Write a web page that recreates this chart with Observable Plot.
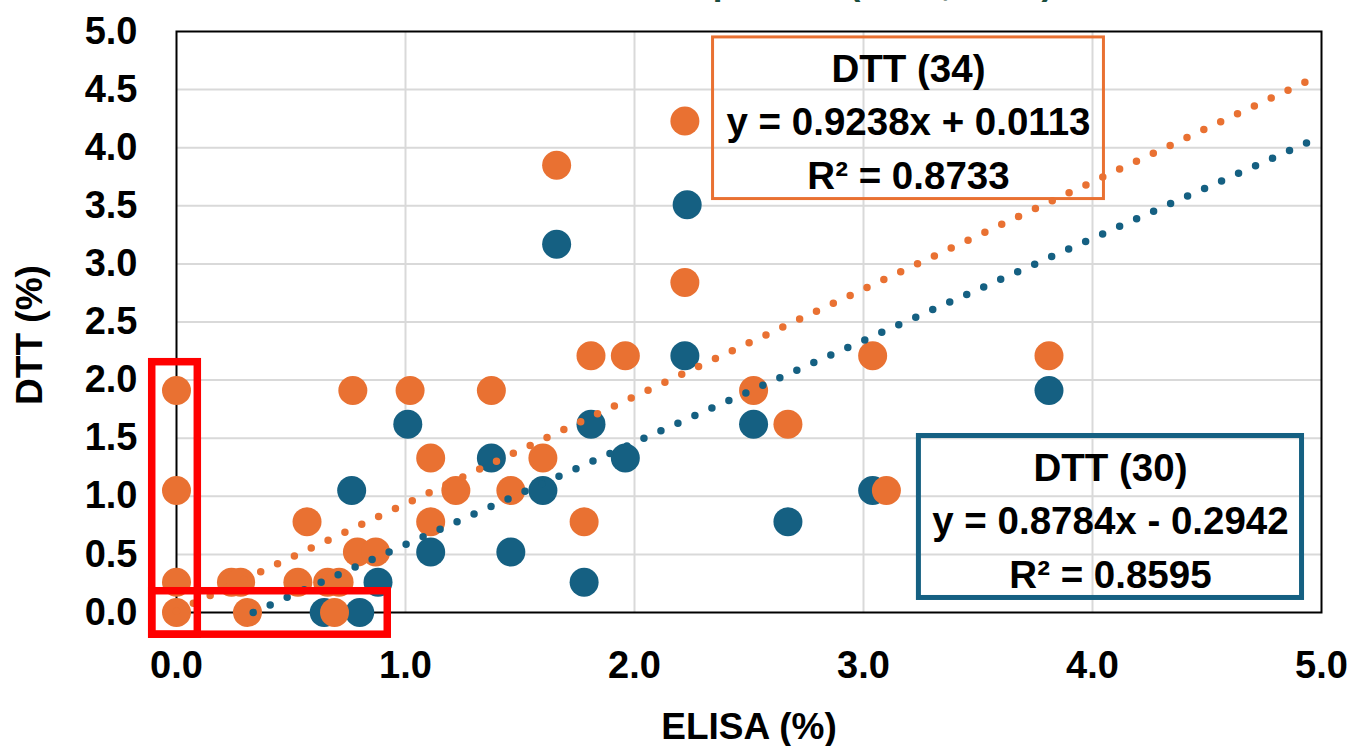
<!DOCTYPE html>
<html><head><meta charset="utf-8">
<script src="https://cdn.jsdelivr.net/npm/d3@7"></script>
<script src="https://cdn.jsdelivr.net/npm/@observablehq/plot@0.6"></script>
<style>
html,body{margin:0;padding:0;background:#fff;overflow:hidden;}
#wrap{position:relative;width:1352px;height:746px;overflow:hidden;}
#title{position:absolute;left:0;width:1450px;top:-36px;text-align:center;font:bold 35px "Liberation Sans",Arial,sans-serif;color:#1B4D3E;white-space:nowrap;line-height:38px;}
#chart{position:absolute;left:0;top:0;}
</style></head><body>
<div id="wrap"><div id="chart"></div><div id="title">ELISA vs DTT Comparison (n=34, n=30)</div></div>
<script>
// ---- data ----
const seriesNames = ["DTT (34)", "DTT (30)"];
const seriesColors = ["#E97132", "#156082"];

const orangeX = [0, 0, 0, 0, 0.24, 0.28, 0.31, 0.53, 0.57, 0.66, 0.71, 0.69, 0.79, 0.87, 0.77, 1.02, 1.375, 1.11, 1.22, 1.46, 1.11, 1.60, 1.78, 1.66, 2.22, 1.81, 1.96, 2.52, 2.67, 3.04, 3.81, 3.10, 2.22];
const orangeY = [1.91, 1.05, 0.26, 0, 0.26, 0.26, 0, 0.26, 0.78, 0.26, 0.26, 0, 0.52, 0.52, 1.91, 1.91, 1.91, 1.33, 1.05, 1.05, 0.78, 1.33, 0.78, 3.85, 2.84, 2.21, 2.21, 1.91, 1.62, 2.21, 2.21, 1.05, 4.23];

const blueX = [0.645, 0.80, 0.88, 0.765, 1.01, 1.11, 1.375, 1.46, 1.60, 1.78, 1.81, 1.66, 2.23, 2.22, 1.96, 2.52, 2.67, 3.81, 3.04];
const blueY = [0, 0, 0.26, 1.05, 1.62, 0.52, 1.33, 0.52, 1.05, 0.26, 1.62, 3.17, 3.51, 2.21, 1.33, 1.62, 0.78, 1.91, 1.05];

const trendSlope = [0.9238, 0.8784];
const trendIntercept = [0.0113, -0.2942];
const trendR2 = [0.8733, 0.8595];

const xTicks = [0, 1, 2, 3, 4, 5];
const yTicks = [0, 0.5, 1, 1.5, 2, 2.5, 3, 3.5, 4, 4.5, 5];

// annotation layout (data coordinates)
const labelBoxes = [
  {x1: 2.343, x2: 4.050, y1: 3.558, y2: 4.949},
  {x1: 3.242, x2: 4.915, y1: 0.125, y2: 1.519}
];
const highlightBoxes = [
  {x1: -0.106, x2: 0.093, y1: -0.191, y2: 2.154},
  {x1: -0.106, x2: 0.9225, y1: -0.191, y2: 0.183}
];

// ---- build tables ----
const orangePts = orangeX.map((x, i) => ({x, y: orangeY[i]}));
const bluePts = blueX.map((x, i) => ({x, y: blueY[i]}));
const xMax = xTicks[xTicks.length - 1];
const trendPts = seriesNames.flatMap((s, i) => {
  const m = trendSlope[i], b = trendIntercept[i];
  const x0 = Math.max(0, -b / m);
  return [{s, x: x0, y: m * x0 + b}, {s, x: xMax, y: m * xMax + b}];
});
const fmt = d3.format(".4f");
const labels = seriesNames.map((s, i) => {
  const b = trendIntercept[i];
  const bx = labelBoxes[i];
  return {
    s, cx: (bx.x1 + bx.x2) / 2, cy: (bx.y1 + bx.y2) / 2,
    text: `${s}\ny = ${fmt(trendSlope[i])}x ${b < 0 ? "-" : "+"} ${fmt(Math.abs(b))}\nR² = ${fmt(trendR2[i])}`
  };
});
const boxes = labelBoxes.map((b, i) => ({...b, s: seriesNames[i]}));

const font = '"Liberation Sans", Arial, sans-serif';
const colorOf = s => seriesColors[seriesNames.indexOf(s)];

const chart = Plot.plot({
  width: 1352, height: 746,
  marginLeft: 176, marginRight: 31, marginTop: 31, marginBottom: 134,
  x: {domain: [0, 5]},
  y: {domain: [0, 5]},
  style: {fontFamily: font, background: "white", color: "black", overflow: "visible"},
  marks: [
    Plot.ruleX(xTicks.filter(d => d > 0 && d < xMax), {x: d => d, stroke: "#d9d9d9", strokeWidth: 2}),
    Plot.ruleY(yTicks.filter(d => d > 0 && d < 5), {y: d => d, stroke: "#d9d9d9", strokeWidth: 2}),
    Plot.frame({stroke: "black", strokeWidth: 2}),
    Plot.axisX(xTicks, {tickSize: 0, tickPadding: 39, tickFormat: d3.format(".1f"), fontSize: 38, fontWeight: "bold", label: null}),
    Plot.axisY(yTicks, {tickSize: 0, tickPadding: 39, tickFormat: d3.format(".1f"), fontSize: 38, fontWeight: "bold", label: null}),
    Plot.dot(bluePts, {x: "x", y: "y", r: 14.5, fill: seriesColors[1], stroke: null}),
    Plot.dot(orangePts, {x: "x", y: "y", r: 14.5, fill: seriesColors[0], stroke: null}),
    Plot.line(trendPts, {x: "x", y: "y", z: "s", stroke: d => colorOf(d.s), strokeWidth: 7.5, strokeDasharray: "0 18.6", strokeLinecap: "round"}),
    Plot.rect(highlightBoxes, {x1: "x1", x2: "x2", y1: "y1", y2: "y2", fill: "none", stroke: "#FF0000", strokeWidth: 7.5}),
    Plot.rect(boxes, {x1: "x1", x2: "x2", y1: "y1", y2: "y2", fill: "none", stroke: d => colorOf(d.s), strokeWidth: d => d.s === seriesNames[0] ? 3 : 5}),
    Plot.text(labels, {x: "cx", y: "cy", text: "text", lineAnchor: "middle", lineHeight: 1.39, fontSize: 38.5, fontWeight: "bold", fill: "black"}),
    Plot.text(["ELISA (%)"], {text: d => d, frameAnchor: "bottom", dy: 115, lineAnchor: "middle", fontSize: 37, fontWeight: "bold", fill: "black"}),
    Plot.text(["DTT (%)"], {text: d => d, frameAnchor: "left", textAnchor: "middle", rotate: -90, dx: -146, dy: 13, lineAnchor: "middle", fontSize: 37, fontWeight: "bold", fill: "black"})
  ]
});
document.getElementById("chart").appendChild(chart);
</script>
</body></html>
